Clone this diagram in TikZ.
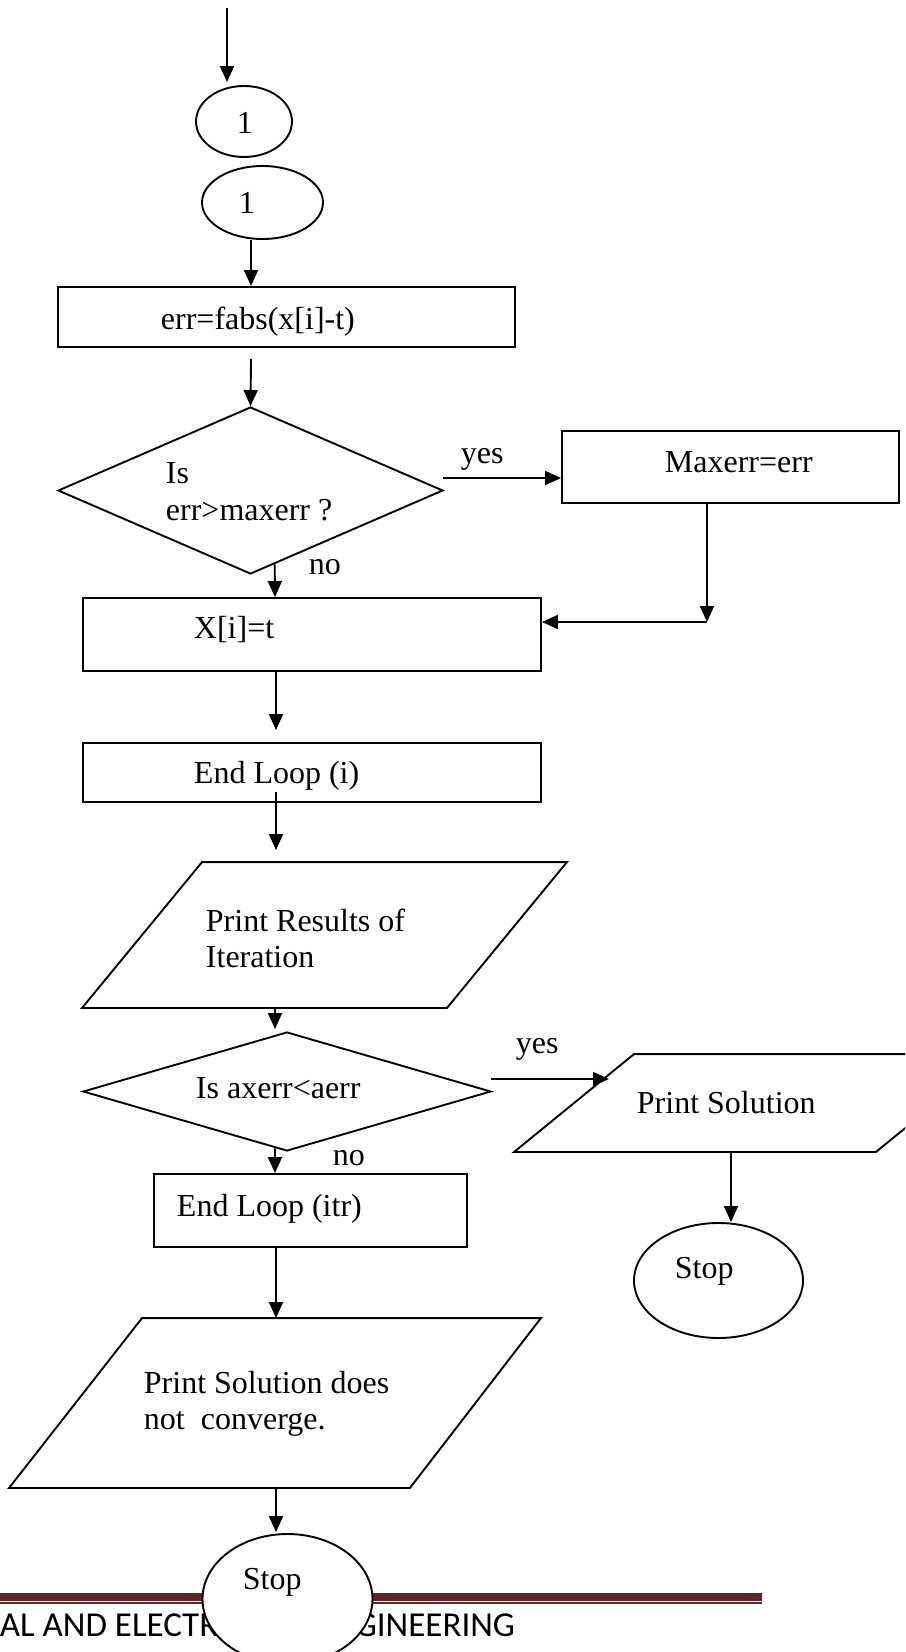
\documentclass[tikz,border=0pt]{standalone}
\usepackage{fontspec}
\setmainfont{Liberation Serif}
\newfontfamily\footerfont{Carlito}
\usetikzlibrary{shapes.geometric,arrows.meta,calc}
\definecolor{footred}{HTML}{622423}

\begin{document}
\begin{tikzpicture}[x=1pt,y=-1pt,line width=1.9pt,
  box/.style={draw,rectangle,inner sep=0pt},
  oval/.style={draw,ellipse,inner sep=0pt,fill=white},
  decision/.style={draw,diamond,inner sep=0pt},
  frame/.style={rectangle,inner sep=0pt},
  txt/.style={anchor=base west,inner sep=0pt,font=\fontsize{32}{37}\selectfont},
  arr/.style={-{Triangle[length=16pt,width=14pt]}},
]
\useasboundingbox (0,0) rectangle (905,1652);
\begin{scope}
\clip (0,0) rectangle (905,1652);

% columns used by the vertical connectors
\coordinate (colA) at (251,0);
\coordinate (colB) at (275,0);
\coordinate (colC) at (276,0);
\coordinate (colD) at (731,0);

% connector circles
\coordinate (in0) at (227,8);
\coordinate (in1) at (227,82);
\draw[arr] (in0) -- (in1);
\node[oval,minimum width=96,minimum height=71] (c1) at (244,121.5) {};
\node[txt] (c1t) at (236,133) {1};
\node[oval,minimum width=121,minimum height=73] (c2) at (262.5,202.5) {};
\node[txt] (c2t) at (238,213) {1};

% error of the current unknown
\node[box,minimum width=457,minimum height=60] (err) at (286.5,317) {};
\node[txt] (errt) at (160,329) {err=fabs(x[i]-t)};
\draw[arr] (c2.south -| colA) -- (err.north -| colA);

% first decision
\node[decision,minimum width=385,minimum height=167] (d1) at (250.5,490.5) {};
\node[txt] (d1a) at (165,483) {Is};
\node[txt] (d1b) at (165,520) {err>maxerr ?};
\draw[arr] ($(err.south -| colA)+(0,11)$) -- (d1.north);

\node[box,minimum width=337,minimum height=72] (maxerr) at (730.5,467) {};
\node[txt] (maxerrt) at (664,472) {Maxerr=err};
\coordinate (y1s) at (443,478);
\draw[arr] (y1s) -- (maxerr.west |- y1s);
\node[txt] (yes1) at (460,463) {yes};

\node[box,minimum width=458,minimum height=73] (xbox) at (312,634.5) {};
\node[txt] (xboxt) at (193,638) {X[i]=t};
\draw[arr] ($(d1.south)!0.125!(d1.east)$) -- (xbox.north -| colB);
\node[txt] (no1) at (308,574) {no};

\coordinate (mc) at (707,622);
\draw[arr] (maxerr.south -| mc) -- (mc);
\draw[arr] (mc) -- (xbox.east |- mc);

% end of the inner loop
\node[box,minimum width=458,minimum height=59] (endi) at (312,772.5) {};
\node[txt] (endit) at (193,783) {End Loop (i)};
\draw[arr] (xbox.south -| colC) -- ($(endi.north -| colC)+(0,-12)$);

% output of the iteration (parallelogram drawn on its frame)
\node[frame,minimum width=483,minimum height=144] (p1) at (324.5,935) {};
\draw (p1.south west) -- ($(p1.north west)+(120,0)$) -- (p1.north east)
      -- ($(p1.south east)+(-120,0)$) -- cycle;
\node[txt] (p1a) at (205,931) {Print Results of};
\node[txt] (p1b) at (205,967) {Iteration};
\draw[arr] ($(endi.south -| colC)+(0,-11)$) -- ($(p1.north -| colC)+(0,-12)$);

% convergence test
\node[decision,minimum width=408,minimum height=119] (d2) at (287,1091.5) {};
\node[txt] (d2t) at (195,1098) {Is axerr<aerr};
\draw[arr] (p1.south -| colB) -- ($(d2.north -| colB)+(0,-2)$);

\node[frame,minimum width=480,minimum height=96] (ps) at (755,1103) {};
\draw (ps.south west) -- ($(ps.north west)+(120,0)$) -- (ps.north east)
      -- ($(ps.south east)+(-120,0)$) -- cycle;
\node[txt] (pst) at (636,1113) {Print Solution};
\coordinate (y2s) at (491,1079);
\coordinate (y2e) at (609,1079);
\draw[arr] (y2s) -- (y2e);
\node[txt] (yes2) at (515,1053) {yes};

\node[oval,minimum width=169,minimum height=115] (stop1) at (718.5,1280.5) {};
\node[txt] (stop1t) at (674,1278) {Stop};
\draw[arr] (ps.south -| colD) -- (stop1.north -| colD);

\node[box,minimum width=313,minimum height=73] (endt) at (310.5,1210.5) {};
\node[txt] (endtt) at (176,1216) {End Loop (itr)};
\draw[arr] ($(d2.south)!0.0588!(d2.west)$) -- (endt.north -| colB);
\node[txt] (no2) at (332,1165) {no};

\node[frame,minimum width=530,minimum height=168] (p3) at (275,1403) {};
\draw (p3.south west) -- ($(p3.north west)+(133,0)$) -- (p3.north east)
      -- ($(p3.south east)+(-131,0)$) -- cycle;
\node[txt] (p3a) at (143,1393) {Print Solution does};
\node[txt] (p3b) at (143,1429) {not\ \ converge.};
\draw[arr] (endt.south -| colC) -- (p3.north -| colC);

% page footer
\fill[footred] (0,1593.3) rectangle (762,1600.7);
\fill[footred] (0,1602.3) rectangle (762,1603.7);
\node[anchor=base east,inner sep=0pt,font=\footerfont\fontsize{35}{40}\selectfont]
  (foot) at (516,1636) {AL AND ELECTRONICS ENGINEERING};

\node[oval,minimum width=170,minimum height=130] (stop2) at (287.5,1599) {};
\node[txt] (stop2t) at (242,1589) {Stop};
\draw[arr] (p3.south -| colC) -- ($(stop2.north -| colC)+(0,-1)$);
\end{scope}
\end{tikzpicture}
\end{document}
